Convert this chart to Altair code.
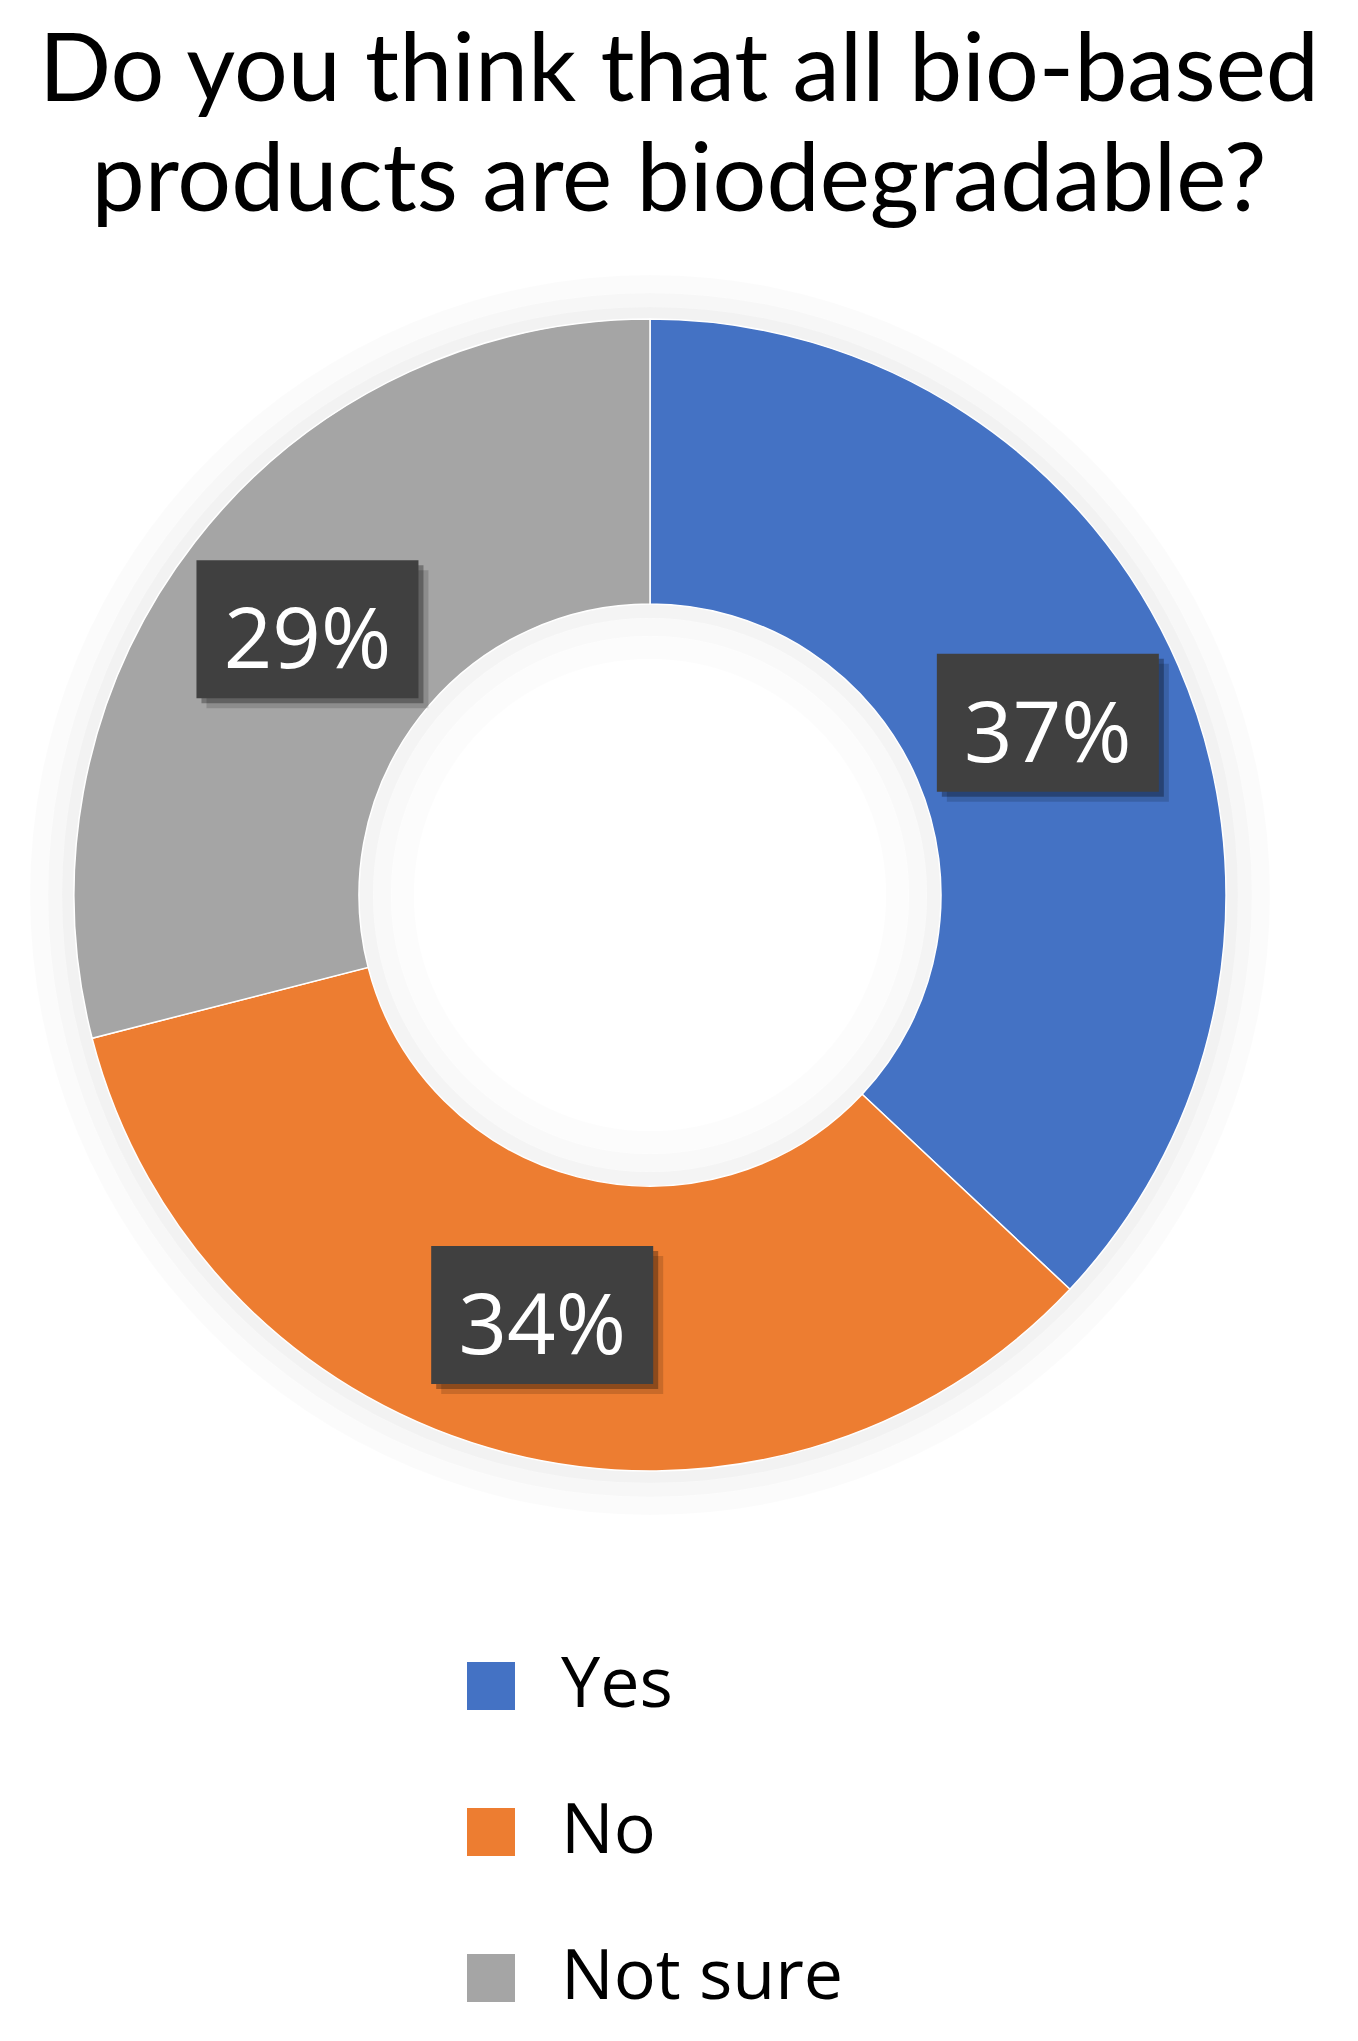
import math
import altair as alt
import pandas as pd

# ---- data ----
categories = ["Yes", "No", "Not sure"]
percent_values = [37, 34, 29]
percent_labels = ["37%", "34%", "29%"]
title_lines = ["Do you think that all bio-based", "products are biodegradable?"]
slice_colors = ["#4472C4", "#ED7D31", "#A5A5A5"]

df = pd.DataFrame({
    "answer": categories,
    "pct": percent_values,
    "label": percent_labels,
    "order": list(range(len(categories))),
})
dummy = pd.DataFrame({"k": [0]})

# ---- layout ----
W, H = 1342, 2022
CX, CY = 642, 887
R_OUT, R_IN = 576, 291
R_LAB = (R_OUT + R_IN) / 2
BOX_W, BOX_H = 222, 138
box_path = "M-1,-{h}L1,-{h}L1,{h}L-1,{h}Z".format(h=round(BOX_H / BOX_W, 4))

color = alt.Color(
    "answer:N",
    scale=alt.Scale(domain=categories, range=slice_colors),
    sort=categories,
    legend=alt.Legend(
        title=None, orient="none", legendX=448, legendY=1643, direction="vertical",
        symbolType="square", symbolSize=2304, symbolStrokeWidth=0,
        symbolOpacity=1, labelFont="Open Sans", labelFontSize=70, labelColor="#000000",
        labelOffset=35, labelLimit=0, rowPadding=76, padding=0,
    ),
)


def ring(r_in, r_out, op):
    return alt.Chart(dummy).mark_arc(
        radius=r_out, radius2=r_in, theta=0, theta2=2 * math.pi,
        color="#000000", opacity=op,
    ).encode(x=alt.value(CX), y=alt.value(CY))


shadows = [
    ring(R_OUT, R_OUT + 12, 0.05),
    ring(R_OUT + 12, R_OUT + 26, 0.03),
    ring(R_OUT + 26, R_OUT + 44, 0.015),
    ring(R_IN - 14, R_IN, 0.045),
    ring(R_IN - 32, R_IN - 14, 0.025),
    ring(R_IN - 55, R_IN - 32, 0.01),
]

donut = alt.Chart(df).mark_arc(
    radius=R_OUT, radius2=R_IN, stroke="white", strokeWidth=1.5
).encode(
    theta=alt.Theta("pct:Q", stack=True),
    color=color,
    order=alt.Order("order:Q"),
    x=alt.value(CX),
    y=alt.value(CY),
)

pos = alt.Chart(df).transform_window(
    cum="sum(pct)", sort=[alt.SortField("order")], frame=[None, 0]
).transform_joinaggregate(
    total="sum(pct)"
).transform_calculate(
    mid="(datum.cum - datum.pct / 2) / datum.total * 2 * PI",
    px=f"{CX} + {R_LAB} * sin(datum.mid)",
    py=f"{CY} - {R_LAB} * cos(datum.mid)",
)
xy = dict(
    x=alt.X("px:Q", scale=None, axis=None),
    y=alt.Y("py:Q", scale=None, axis=None),
)

box_shadow1 = pos.mark_point(
    shape=box_path, size=BOX_W ** 2, filled=True, color="#000000",
    opacity=0.15, strokeWidth=0, xOffset=10, yOffset=10,
).encode(**xy)
box_shadow2 = pos.mark_point(
    shape=box_path, size=BOX_W ** 2, filled=True, color="#000000",
    opacity=0.3, strokeWidth=0, xOffset=5, yOffset=5,
).encode(**xy)
boxes = pos.mark_point(
    shape=box_path, size=BOX_W ** 2, filled=True, color="#404040",
    opacity=1, strokeWidth=0,
).encode(**xy)
labels = pos.mark_text(
    font="Open Sans", fontSize=85, color="#ffffff", baseline="middle",
    align="center", dy=13,
).encode(text="label:N", **xy)

TITLE_BASE, TITLE_STEP = 93, 110
title_layers = [
    alt.Chart(dummy).mark_text(
        text=line, font="Lato", fontSize=95,
        align="center", baseline="alphabetic", color="#000000",
    ).encode(x=alt.value(W / 2), y=alt.value(TITLE_BASE + i * TITLE_STEP))
    for i, line in enumerate(title_lines)
]

chart = alt.layer(
    *shadows, donut, box_shadow1, box_shadow2, boxes, labels, *title_layers
).properties(
    width=W, height=H,
    autosize=alt.AutoSizeParams(type="none"),
    padding=0,
    background="#ffffff",
).configure_view(strokeWidth=0)

chart.save("out.html", embed_options={"renderer": "svg", "actions": False})
